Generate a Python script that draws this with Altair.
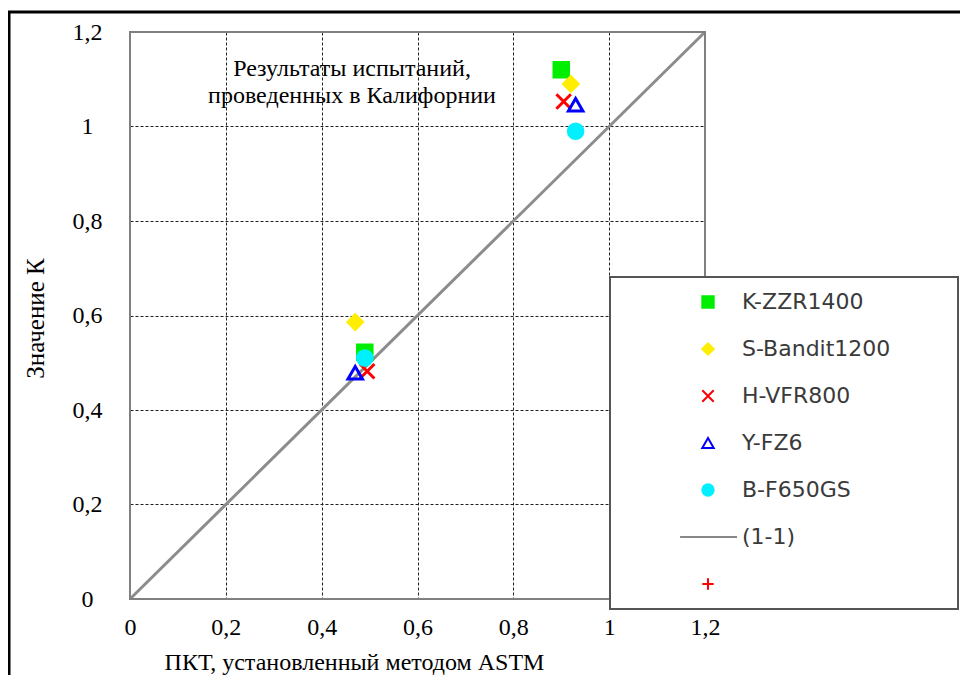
import altair as alt
import pandas as pd

# ---- data ----
models = ["K-ZZR1400", "S-Bandit1200", "H-VFR800", "Y-FZ6", "B-F650GS"]
astm_upper = [0.90, 0.92, 0.905, 0.93, 0.93]
k_upper = [1.12, 1.09, 1.053, 1.046, 0.99]
astm_lower = [0.49, 0.47, 0.495, 0.47, 0.49]
k_lower = [0.522, 0.586, 0.482, 0.479, 0.51]
legend_extra = ["(1-1)", "+"]
diag_x = [0.0, 1.2]
diag_y = [0.0, 1.2]
ticks = [0, 0.2, 0.4, 0.6, 0.8, 1.0, 1.2]
note_lines = ["Результаты испытаний,", "проведенных в Калифорнии"]
x_title = "ПКТ, установленный методом ASTM"
y_title = "Значение К"

# ---- tables ----
pts = pd.DataFrame({
    "x": astm_upper + astm_lower,
    "y": k_upper + k_lower,
    "model": models + models,
})
diag = pd.DataFrame({"x": diag_x, "y": diag_y})
box = pd.DataFrame({"x": [ticks[0]], "x2": [ticks[-1]], "y": [ticks[0]], "y2": [ticks[-1]]})
dummy = pd.DataFrame({"a": [0]})

dom = models + legend_extra
fills = ["#00ee00", "#ffee00", "transparent", "transparent", "#00f0ff", "transparent", "transparent"]
strokes = ["#00ee00", "#ffee00", "#ff0000", "#0000ff", "#00f0ff", "#888888", "#ff0000"]
shapes = ["square", "diamond", "M-1,-1L1,1M-1,1L1,-1", "triangle-up", "circle",
          "M-4.9,0L5.1,0", "M-1,0L1,0M0,-1L0,1"]

label_expr = "replace(format(datum.value, '.1~f'), '.', ',')"
serif = "Liberation Serif"

x_axis = alt.Axis(values=ticks, labelExpr=label_expr, grid=True, gridDash=[3, 2],
                  gridColor="#222222", gridWidth=1, domain=False, ticks=False, tickSize=0,
                  labelFont=serif, labelFontSize=24, labelColor="black", labelPadding=16,
                  labelFlush=False,
                  title=x_title, titleFont=serif, titleFontSize=24, titleFontWeight="normal",
                  titleColor="black", titleX=224, titleY=63, titleBaseline="middle",
                  titleAlign="center")
y_axis = alt.Axis(values=ticks, labelExpr=label_expr, grid=True, gridDash=[3, 2],
                  gridColor="#222222", gridWidth=1, domain=False, ticks=False, tickSize=0,
                  labelFont=serif, labelFontSize=24, labelColor="black", labelPadding=43,
                  labelAlign="center", labelBaseline="middle", labelFlush=True,
                  title=y_title, titleFont=serif, titleFontSize=25, titleFontWeight="normal",
                  titleColor="black", titleX=-95, titleY=286, titleBaseline="middle",
                  titleAlign="center")

xs = alt.Scale(domain=[ticks[0], ticks[-1]], nice=False, zero=False)
ys = alt.Scale(domain=[ticks[0], ticks[-1]], nice=False, zero=False)

leg = alt.Legend(orient="none", legendX=480, legendY=245, title="\u00a0", titleOrient="right",
                 titlePadding=54, titleFontSize=10, padding=14, symbolOffset=73, labelOffset=23,
                 rowPadding=25, symbolSize=130, symbolStrokeWidth=2, labelFont="DejaVu Sans",
                 labelFontSize=22, labelColor="#3a3a3a", fillColor="white", strokeColor="#555555",
                 labelExpr="datum.label == '+' ? '' : datum.label", labelLimit=300)

diag_layer = alt.Chart(diag).mark_line(color="#8c8c8c", strokeWidth=3).encode(
    x=alt.X("x:Q", scale=xs, axis=x_axis),
    y=alt.Y("y:Q", scale=ys, axis=y_axis),
)

border_layer = alt.Chart(box).mark_rect(fill="transparent", stroke="#808080", strokeWidth=2).encode(
    x=alt.X("x:Q", scale=xs, axis=x_axis),
    x2="x2:Q",
    y=alt.Y("y:Q", scale=ys, axis=y_axis),
    y2="y2:Q",
)

points_layer = alt.Chart(pts).mark_point(size=210, strokeWidth=3, opacity=1, filled=False).encode(
    x=alt.X("x:Q", scale=xs, axis=x_axis),
    y=alt.Y("y:Q", scale=ys, axis=y_axis),
    fill=alt.Fill("model:N", scale=alt.Scale(domain=dom, range=fills), legend=leg),
    stroke=alt.Stroke("model:N", scale=alt.Scale(domain=dom, range=strokes), legend=leg),
    shape=alt.Shape("model:N", scale=alt.Scale(domain=dom, range=shapes), legend=leg),
)

note_layer = alt.Chart(dummy).mark_text(
    text=note_lines, font=serif, fontSize=24, color="black", lineHeight=27,
    align="center", baseline="middle"
).encode(x=alt.value(222), y=alt.value(37))

frame_layer = alt.Chart(dummy).mark_rect(fill="transparent", stroke="black", strokeWidth=3, clip=False).encode(
    x=alt.value(-121), x2=alt.value(900), y=alt.value(-20), y2=alt.value(700)
)

chart = alt.layer(diag_layer, border_layer, points_layer, note_layer, frame_layer).properties(
    width=575, height=567,
    padding={"left": 122, "top": 24, "right": 255, "bottom": 76},
    autosize=alt.AutoSizeParams(type="none"),
).configure_view(stroke="transparent").configure_legend(strokeWidth=2)

chart.save("out.html", embed_options={"renderer": "svg", "actions": False})
